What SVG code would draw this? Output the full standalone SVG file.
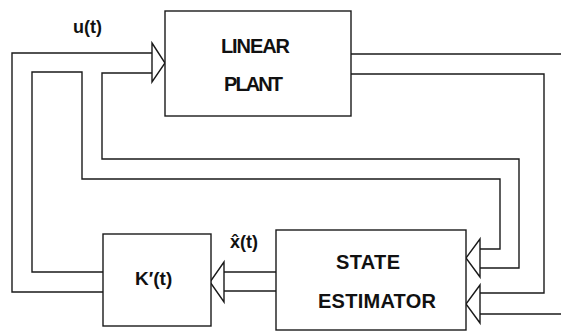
<svg xmlns="http://www.w3.org/2000/svg" width="561" height="331" viewBox="0 0 561 331">
<style>
.ln{fill:none;stroke:#1a1a1a;stroke-width:1.4;stroke-linejoin:miter}
.box{fill:#fff;stroke:#1a1a1a;stroke-width:1.4}
.ah{fill:#fff;stroke:#1a1a1a;stroke-width:1.4;stroke-linejoin:miter}
.t{font-family:"Liberation Sans",Arial,Helvetica,sans-serif;font-weight:bold;fill:#111}
</style>
<rect width="561" height="331" fill="#fff"/>
<g id="connectors">
  <!-- u(t) bus: K' to plant and estimator -->
  <polyline class="ln" points="103,292 12,292 12,53 152,53"/>
  <polyline class="ln" points="103,272 32,272 32,72 82,72 82,179 500,179 500,249 480,249"/>
  <polyline class="ln" points="152,73 102,73 102,159 519,159 519,268 480,268"/>
  <!-- plant output -->
  <polyline class="ln" points="351,54 561,54"/>
  <polyline class="ln" points="351,74 544,74 544,293 480,293"/>
  <polyline class="ln" points="480,314 561,314"/>
  <!-- x-hat -->
  <polyline class="ln" points="276,272 224,272"/>
  <polyline class="ln" points="276,291 224,291"/>
  <!-- arrowheads -->
  <polygon class="ah" points="152,43 165,63 152,82"/>
  <polygon class="ah" points="480,239 466,258 480,277"/>
  <polygon class="ah" points="480,285 466,304 480,323"/>
  <polygon class="ah" points="224,262 210,282 224,302"/>
  <text class="t" x="73" y="33" font-size="18">u(t)</text>
  <text class="t" x="230" y="248" font-size="18">x̂(t)</text>
</g>
<g id="plant">
  <rect class="box" x="165" y="11" width="186" height="105"/>
  <text class="t" x="221" y="53" font-size="20" textLength="69" lengthAdjust="spacing">LINEAR</text>
  <text class="t" x="224" y="91" font-size="20" textLength="59" lengthAdjust="spacing">PLANT</text>
</g>
<g id="estimator">
  <rect class="box" x="276" y="230" width="190" height="100"/>
  <text class="t" x="336" y="269" font-size="20" textLength="64" lengthAdjust="spacing">STATE</text>
  <text class="t" x="318" y="308" font-size="20" textLength="118" lengthAdjust="spacing">ESTIMATOR</text>
</g>
<g id="gain">
  <rect class="box" x="103" y="234" width="108" height="92"/>
  <text class="t" x="135" y="285" font-size="19">K′(t)</text>
</g>
</svg>
